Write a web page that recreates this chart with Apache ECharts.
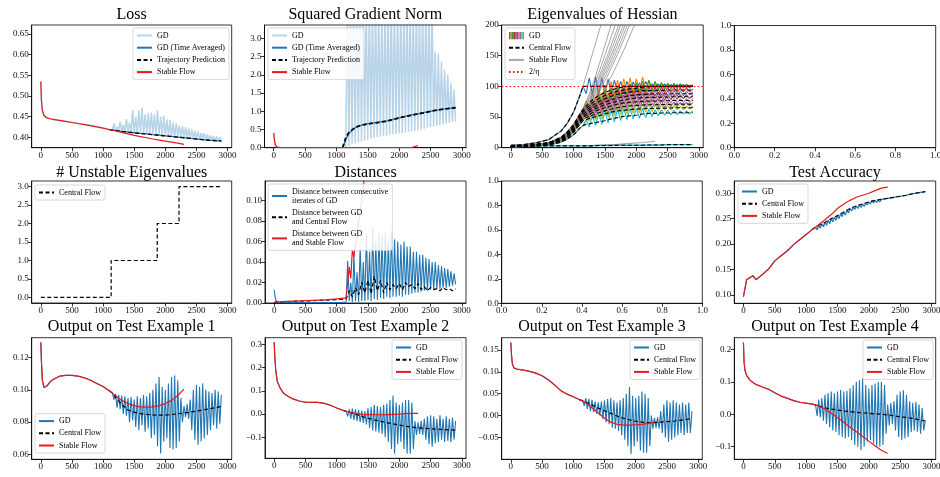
<!DOCTYPE html>
<html><head><meta charset="utf-8"><title>Central flow panels</title>
<script src="https://cdn.jsdelivr.net/npm/echarts@6.0.0/dist/echarts.min.js"></script>
<style>html,body{margin:0;padding:0;background:#fff;}#chart{width:940px;height:477px;}</style>
</head><body><div id="chart"></div>
<script>
// ---------------- iteration grids ----------------
const ITER = [0,10,25,50,100,150,200,300,400,500,600,700,800,900,1000,1100,1150,1200,1300,1400,1500,1600,1700,1800,1900,2000,2100,2200,2300];
const LATE_X = [1100,1150,1200,1300,1400,1500,1600,1700,1800,1900,2000,2100,2200,2300,2400,2500,2600,2700,2800,2900];
const SPIKE_X = [1150,1175,1200,1225,1250,1275,1300,1325,1350,1375,1400,1425,1450,1475,1500,1525,1550,1575,1600,1625,1650,1675,1700,1725,1750,1775,1800,1825,1850,1875,1900,1925,1950,1975,2000,2025,2050,2075,2100,2125,2150,2175,2200,2225,2250,2275,2300,2325,2350,2375,2400,2425,2450,2475,2500,2525,2550,2575,2600,2625,2650,2675,2700,2725,2750,2775,2800,2825,2850,2875,2900];
const EIG_CX = [0,200,400,600,800,900,1000,1100,1150,1200,1300,1400,1500,1600,1700,1800,1900,2000,2100,2200,2300,2400,2500,2600,2700,2800,2900];
const EIG_X = [1150,1200,1250,1300,1350,1400,1450,1500,1550,1600,1650,1700,1750,1800,1850,1900,1950,2000,2050,2100,2150,2200,2250,2300,2350,2400,2450,2500,2550,2600,2650,2700,2750,2800,2850,2900];

// ---------------- tick labels ----------------
const X_TICKS = [0,500,1000,1500,2000,2500,3000];
const UNIT_TICKS = [0,0.2,0.4,0.6,0.8,1.0];
const Y_TICKS_LOSS = [0.40,0.45,0.50,0.55,0.60,0.65];
const Y_TICKS_GRAD = [0,0.5,1.0,1.5,2.0,2.5,3.0];
const Y_TICKS_EIG = [0,50,100,150,200];
const Y_TICKS_UNST = [0,0.5,1.0,1.5,2.0,2.5,3.0];
const Y_TICKS_DIST = [0,0.02,0.04,0.06,0.08,0.10];
const Y_TICKS_ACC = [0.10,0.15,0.20,0.25,0.30];
const Y_TICKS_OUT1 = [0.06,0.08,0.10,0.12];
const Y_TICKS_OUT2 = [-0.1,0,0.1,0.2,0.3];
const Y_TICKS_OUT3 = [-0.05,0,0.05,0.10,0.15];
const Y_TICKS_OUT4 = [-0.1,0,0.1,0.2];

// ---------------- Loss ----------------
const STABLE_LOSS = [0.535,0.49,0.465,0.453,0.447,0.445,0.4435,0.441,0.4385,0.436,
  0.4335,0.431,0.4285,0.4255,0.4225,0.419,0.4172,0.4155,0.412,0.4085,
  0.405,0.402,0.399,0.396,0.3935,0.391,0.3885,0.386,0.383];
const CENTRAL_LOSS = [0.419,0.4175,0.4165,0.4145,0.4125,0.411,0.4095,0.408,0.4065,0.405,
  0.4035,0.402,0.4005,0.399,0.3975,0.396,0.3945,0.393,0.392,0.391];
const AVG_LOSS = [0.419,0.4178,0.4168,0.4147,0.4128,0.4112,0.4097,0.4083,0.4066,0.4052,
  0.4037,0.4022,0.4007,0.3992,0.3977,0.3962,0.3947,0.3932,0.3922,0.3912];
const GD_LOSS = [0.4175,0.434,0.4165,0.425,0.4155,0.438,0.4145,0.43,0.4135,0.444,
  0.4125,0.436,0.412,0.466,0.411,0.45,0.4103,0.465,0.4095,0.472,
  0.4088,0.455,0.408,0.458,0.4073,0.46,0.4065,0.455,0.4058,0.465,
  0.405,0.45,0.4043,0.452,0.4035,0.443,0.4028,0.442,0.402,0.436,
  0.4013,0.434,0.4005,0.428,0.3998,0.427,0.399,0.425,0.3983,0.422,
  0.3975,0.419,0.3968,0.416,0.396,0.414,0.3953,0.411,0.3945,0.41,
  0.3938,0.407,0.393,0.405,0.3925,0.403,0.392,0.402,0.3915,0.4,
  0.391];

// ---------------- Squared gradient norm ----------------
const STABLE_GRAD = [0.4,0.25,0.08,0.02,0.005,0.003,0.002,0.002,0.002,0.002,
  0.002,0.002,0.002,0.002,0.002,0.002,0.002,0.002,0.002,0.002,
  0.002,0.002,0.002,0.002,0.002,0.002,0.002,0.002,0.06];
const CENTRAL_GRAD = [0.0,0.28,0.42,0.56,0.62,0.65,0.68,0.7,0.73,0.77,
  0.82,0.86,0.89,0.93,0.96,1.0,1.03,1.06,1.08,1.1];
const AVG_GRAD = [0.0,0.22,0.4,0.55,0.62,0.66,0.68,0.71,0.73,0.78,
  0.82,0.86,0.9,0.93,0.97,1.0,1.03,1.06,1.08,1.09];
const GD_GRAD = [0.0,4,0.05,4,0.1,4,0.12,4,0.15,4,
  0.18,4,0.2,4,0.22,4,0.25,4,0.27,4,
  0.3,4,0.3,4,0.32,4,0.33,4,0.35,4,
  0.37,4,0.38,4,0.4,4,0.4,4,0.42,4,
  0.43,4,0.45,4,0.46,4,0.48,4,0.5,4,
  0.52,4,0.54,4,0.56,4,0.58,2.64,0.6,2.59,
  0.62,2.36,0.64,2.14,0.66,2.0,0.68,1.77,0.7,1.6,
  0.72];

// ---------------- Eigenvalues of Hessian ----------------
const ETA_LEVEL = 100;
const EIG_CF_1 = [4,5,8,13,27,40,58,85,100,100,100,100,100,100,100,100,100,100,100,100,100,100,100,100,100,100,100];
const EIG_CF_2 = [3,4,6,8,17,26,38,55,63,68,78,85,90,94,97,99,100,100,100,100,100,100,100,100,100,100,100];
const EIG_CF_3 = [3,3,5,8,16,24,36,52,60,64,73,80,85,89,92,94,96,97,98.5,100,100,100,100,100,100,100,100];
const EIG_CF_4 = [2,3,5,7,15,22,34,50,58,61,69,75,80,84,87,89,91,92,93,93,93.5,93.5,94,94,94,94,94];
const EIG_CF_5 = [2,3,4,7,14,21,32,48,55,58,65,70,74,78,81,83,85,86,87,87,87.5,87.5,88,88,88,88,88];
const EIG_CF_6 = [2,2,4,6,13,20,30,45,52,55,61,66,70,73,76,78,80,81,81.5,82,82,82.5,82.5,83,83,83,83];
const EIG_CF_7 = [2,2,3,6,12,18,28,43,50,52,57,62,65,68,71,73,74,75,75.5,76,76,76.5,76.5,77,77,77,77];
const EIG_CF_8 = [2,2,3,5,11,17,27,41,47,49,53,57,60,63,65,67,68,69,69.5,70,70,70.5,70.5,71,71,71,71];
const EIG_CF_9 = [2,2,3,5,10,16,25,38,44,46,49,52,55,58,60,61,62,63,63.5,64,64,64.5,64.5,65,65,65,65];
const EIG_CF_10 = [1,2,3,4,9,14,21,32,36,38,40,42,44,47,49,51,52,53,55,56,56,56.5,56.5,57,57,57,57];
const EIG_CF_11 = [3,3,3,3,3,3,3,3,3,3,3,3.5,3.5,3.5,4,4,4,4,4,4.5,4.5,4.5,5,5,5,5,5];
const EIG_GD_1 = [100,88,114,86,116,85,114,87,112,89,110,91,108,92,108,93,107,94,106,95,108,96,104,97,104,97,104,97,103,98,103,98,103,98,102,100];
const EIG_GD_2 = [63,76,66,88,74,96,78,102,82,108,86,110,88,112,90,114,90,112,92,115,93,110,95,107,96,106,96,105,97,105,97,104,98,104,98,103];
const EIG_GD_3 = [60,70,62,80,68,88,72,94,76,98,82,100,85,102,86,104,88,106,89,108,90,110,92,108,94,106,95,105,96,104,96,104,97,103,97,102];
const EIG_GD_4 = [58,66,58,76,64,82,68,88,72,92,76,95,80,97,81,99,83,100,84,101,85,100,87,99,88,98,89,98,90,98,90,97,91,97,91,96];
const EIG_GD_5 = [55,63,55,72,60,78,63,83,66,87,70,90,72,92,75,93,77,94,78,95,79,95,81,94,82,93,83,93,84,93,84,92,85,92,86,91];
const EIG_GD_6 = [52,60,52,68,56,74,59,79,62,82,65,85,67,86,69,88,71,88,72,89,73,89,75,88,76,88,77,87,78,87,79,86,80,86,80,86];
const EIG_GD_7 = [50,57,49,64,52,70,55,74,58,77,61,80,63,81,65,82,66,83,67,83,68,83,70,82,71,82,72,81,73,81,73,80,74,80,74,80];
const EIG_GD_8 = [47,54,46,60,48,65,51,69,54,72,57,74,59,76,60,77,61,77,62,77,63,77,64,76,65,76,66,75,67,75,67,74,68,74,68,74];
const EIG_GD_9 = [44,51,43,56,45,61,47,64,50,67,52,69,54,70,55,71,56,71,57,71,58,71,59,70,60,70,61,69,61,69,62,68,62,68,63,68];
const EIG_GD_10 = [36,46,34,52,36,56,38,60,40,62,42,63,44,64,46,64,47,64,48,64,49,63,51,62,52,62,53,61,54,61,54,60,55,60,55,60];
const EIG_SF_1 = [100,118,135,153,170,188,205,225];
const EIG_SF_2 = [63,75,88,102,117,133,150,167,184,200,218];
const EIG_SF_3 = [60,71,83,95,108,122,136,151,166,181,196,212];
const EIG_SF_4 = [58,68,79,90,102,114,127,140,153,167,181,195,210];
const EIG_SF_5 = [55,65,75,86,97,109,121,133,146,159,172,186,201];
const EIG_SF_6 = [52,62,72,82,93,104,115,127,139,151,163,176,189,202];
const EIG_SF_7 = [50,59,69,79,89,99,110,121,132,144,156,168,181,194,207];
const EIG_SF_8 = [47,56,65,74,84,94,104,115,126,137,148,160,172,185,198,211];
const EIG_SF_9 = [44,52,61,70,79,89,99,109,119,130,141,152,164,176,189,202];
const EIG_SF_10 = [36,43,51,59,68,77,86,96,106,116,126,137,148,159,171,183,195,208];
const EIG_SF_11_X = [1150,1300,1500,1700,1900,2100,2300];
const EIG_SF_11 = [3.5,3.8,4.5,5.5,7,8.5,10.5];

// ---------------- # unstable eigenvalues ----------------
const UNSTABLE_X = [0,1130,1870,2220,2900];
const UNSTABLE_N = [0,1,2,3,3];

// ---------------- Distances ----------------
const DIST_GD_EARLY = [0.013,0.008,0.003,0.0008,0.0005,0.0004,0.0004,0.0004,0.0004,0.0004,
  0.0004,0.0004,0.0004,0.0004,0.0005,0.0006];
const DIST_GD = [0.001,0.041,0.002,0.02,0.001,0.047,0.002,0.03,0.001,0.055,
  0.002,0.04,0.002,0.068,0.003,0.05,0.002,0.073,0.004,0.06,
  0.003,0.068,0.005,0.065,0.004,0.068,0.006,0.06,0.005,0.07,
  0.006,0.062,0.006,0.06,0.007,0.057,0.006,0.06,0.008,0.055,
  0.008,0.055,0.009,0.05,0.01,0.05,0.01,0.047,0.011,0.047,
  0.012,0.044,0.012,0.043,0.013,0.04,0.013,0.04,0.014,0.037,
  0.014,0.036,0.015,0.034,0.015,0.033,0.016,0.031,0.017,0.029,
  0.018];
const DIST_CF_EARLY = [0.0005,0.0008,0.001,0.001,0.001,0.0012,0.0013,0.0015,0.0018,0.002,
  0.0022,0.0025,0.0028,0.003,0.0033,0.0036];
const DIST_CF = [0.004,0.012,0.006,0.015,0.008,0.02,0.01,0.022,0.009,0.026,
  0.012,0.022,0.01,0.02,0.013,0.018,0.014,0.019,0.013,0.02,
  0.016,0.018,0.014,0.019,0.013,0.016,0.012,0.015,0.013,0.014,
  0.012,0.015,0.013,0.014,0.012,0.014];
const DIST_SF_X = [0,200,400,600,800,1000,1150,1175,1200,1225,1250,1275,1300,1325,1350,1375,1400,1425,1450];
const DIST_SF = [0.001,0.0015,0.002,0.0025,0.003,0.004,0.005,0.02,0.035,0.024,0.052,0.045,0.058,0.063,0.08,0.09,0.1,0.112,0.13];

// ---------------- Test accuracy ----------------
const STABLE_ACC = [0.097,0.094,0.1,0.13,0.134,0.138,0.13,0.14,0.151,0.167,
  0.177,0.187,0.199,0.209,0.219,0.229,0.233,0.238,0.248,0.258,
  0.27,0.279,0.286,0.292,0.296,0.3,0.305,0.31,0.312];
const CENTRAL_ACC = [0.229,0.233,0.237,0.243,0.25,0.256,0.263,0.27,0.275,0.279,
  0.283,0.286,0.288,0.29,0.292,0.294,0.296,0.299,0.301,0.303];
const GD_ACC = [0.233,0.228,0.237,0.231,0.24,0.234,0.243,0.237,0.247,0.24,
  0.25,0.244,0.253,0.247,0.256,0.25,0.26,0.254,0.263,0.257,
  0.267,0.261,0.27,0.265,0.273,0.268,0.275,0.27,0.277,0.272,
  0.279,0.274,0.281,0.277,0.283,0.279,0.285,0.281,0.286,0.282,
  0.287,0.283,0.288,0.285,0.289,0.287,0.29,0.288,0.291,0.289,
  0.292,0.29,0.293,0.291,0.294,0.292,0.295,0.293,0.296,0.294,
  0.298,0.296,0.299,0.297,0.3,0.298,0.301,0.299,0.302,0.3,
  0.303];

// ---------------- Outputs on test examples ----------------
const STABLE_OUT1 = [0.1295,0.118,0.106,0.1015,0.1025,0.105,0.1065,0.1085,0.109,0.109,
  0.1085,0.1075,0.106,0.104,0.1021,0.0995,0.098,0.0965,0.0935,0.0915,
  0.0902,0.0895,0.0893,0.0895,0.0902,0.0915,0.0935,0.0965,0.1005];
const CENTRAL_OUT1 = [0.0995,0.098,0.0955,0.091,0.0875,0.0862,0.0852,0.0848,0.0845,0.0843,
  0.0843,0.0847,0.0852,0.0856,0.0862,0.0868,0.0875,0.0882,0.0889,0.0897];
const GD_OUT1 = [0.098,0.094,0.0975,0.089,0.097,0.088,0.0965,0.085,0.096,0.084,
  0.095,0.08,0.0955,0.081,0.094,0.077,0.096,0.075,0.095,0.078,
  0.097,0.074,0.096,0.076,0.098,0.07,0.1,0.072,0.104,0.065,
  0.108,0.0605,0.102,0.068,0.1,0.07,0.104,0.064,0.108,0.063,
  0.109,0.064,0.106,0.068,0.095,0.08,0.09,0.083,0.091,0.082,
  0.094,0.075,0.1,0.069,0.103,0.066,0.102,0.068,0.104,0.07,
  0.1,0.072,0.099,0.075,0.098,0.078,0.1,0.076,0.099,0.079,
  0.097];
const STABLE_OUT2 = [0.309,0.25,0.19,0.14,0.11,0.09,0.08,0.065,0.056,0.051,
  0.05,0.05,0.046,0.038,0.026,0.016,0.012,0.009,0.003,-0.001,
  -0.002,-0.003,-0.003,-0.002,-0.001,0.0,0.002,0.003,0.003];
const CENTRAL_OUT2 = [0.016,0.012,0.008,0.0,-0.01,-0.018,-0.025,-0.031,-0.037,-0.042,
  -0.047,-0.052,-0.056,-0.059,-0.061,-0.063,-0.065,-0.066,-0.068,-0.069];
const GD_OUT2 = [0.012,-0.01,0.02,-0.02,0.024,-0.025,0.02,-0.03,0.018,-0.035,
  0.015,-0.038,0.012,-0.045,0.025,-0.06,0.03,-0.07,0.04,-0.075,
  0.035,-0.08,0.03,-0.085,0.04,-0.1,0.045,-0.12,0.06,-0.15,
  0.08,-0.17,0.05,-0.13,0.04,-0.12,0.05,-0.15,0.06,-0.17,
  0.06,-0.17,0.05,-0.15,-0.03,-0.09,-0.035,-0.085,-0.03,-0.09,
  -0.02,-0.11,-0.01,-0.13,-0.005,-0.14,-0.01,-0.125,-0.02,-0.12,
  -0.005,-0.11,-0.02,-0.12,-0.01,-0.115,-0.02,-0.12,-0.015,-0.11,
  -0.03];
const STABLE_OUT3 = [0.167,0.14,0.118,0.109,0.106,0.105,0.104,0.101,0.097,0.091,
  0.082,0.07,0.057,0.049,0.043,0.036,0.033,0.029,0.018,0.006,
  -0.006,-0.015,-0.02,-0.022,-0.022,-0.021,-0.02,-0.018,-0.015];
const CENTRAL_OUT3 = [0.036,0.034,0.031,0.024,0.017,0.011,0.005,-0.001,-0.006,-0.01,
  -0.013,-0.015,-0.016,-0.016,-0.015,-0.014,-0.013,-0.011,-0.009,-0.007];
const GD_OUT3 = [0.034,0.022,0.04,0.015,0.038,0.01,0.036,0.008,0.032,0.004,
  0.03,0.0,0.032,-0.008,0.035,-0.015,0.038,-0.02,0.04,-0.028,
  0.035,-0.03,0.03,-0.035,0.035,-0.045,0.04,-0.055,0.05,-0.07,
  0.065,-0.088,0.045,-0.07,0.04,-0.06,0.045,-0.08,0.055,-0.085,
  0.05,-0.085,0.04,-0.07,0.0,-0.03,-0.005,-0.028,-0.004,-0.03,
  0.01,-0.04,0.025,-0.05,0.035,-0.06,0.03,-0.055,0.035,-0.05,
  0.03,-0.045,0.025,-0.04,0.03,-0.045,0.025,-0.04,0.03,-0.04,
  0.01];
const STABLE_OUT4 = [0.221,0.16,0.135,0.12,0.106,0.098,0.092,0.084,0.077,0.066,
  0.056,0.049,0.042,0.037,0.034,0.031,0.029,0.025,0.016,0.003,
  -0.011,-0.025,-0.04,-0.054,-0.068,-0.083,-0.098,-0.111,-0.121];
const CENTRAL_OUT4 = [0.031,0.029,0.025,0.02,0.016,0.013,0.01,0.008,0.006,0.004,
  0.003,0.001,0.0,-0.002,-0.005,-0.008,-0.01,-0.013,-0.017,-0.021];
const GD_OUT4 = [0.029,-0.005,0.045,-0.01,0.05,-0.02,0.06,-0.03,0.065,-0.04,
  0.07,-0.05,0.065,-0.055,0.07,-0.065,0.075,-0.07,0.07,-0.075,
  0.072,-0.07,0.08,-0.08,0.09,-0.095,0.1,-0.1,0.105,-0.111,
  0.11,-0.1,0.09,-0.085,0.08,-0.08,0.09,-0.09,0.095,-0.1,
  0.1,-0.1,0.1,-0.095,0.09,-0.06,0.03,-0.035,0.035,-0.03,
  0.04,-0.05,0.06,-0.07,0.07,-0.08,0.074,-0.075,0.06,-0.07,
  0.04,-0.055,0.035,-0.05,0.038,-0.054,0.03,-0.06,0.02,-0.05,
  -0.02];

// ---------------- styling ----------------
const FONT = '"Liberation Serif","Times New Roman",serif';
const C_BLUE = '#1f77b4', C_LIGHT = 'rgba(31,119,180,0.32)', C_RED = '#e8191f', C_GREY = 'rgba(128,128,128,0.7)';
const TAB10 = ['#1f77b4','#ff7f0e','#2ca02c','#d62728','#9467bd','#8c564b','#e377c2','#7f7f7f','#bcbd22','#17becf'];
const DASH = [4,2.5];

function pairs(xs, ys){ const out=[]; for(let i=0;i<ys.length;i++){ if(ys[i]!=null) out.push([xs[i], ys[i]]); } return out; }
function withEarly(earlyX, earlyY, n, lateX, lateY){ return pairs(earlyX.slice(0,n), earlyY.slice(0,n)).concat(pairs(lateX, lateY)); }
function L(name, g, data, color, width, type, extra){
  return Object.assign({type:'line', name:name, xAxisIndex:g, yAxisIndex:g, data:data, symbol:'none', showSymbol:false,
    silent:true, animation:false, clip:true, lineStyle:{color:color, width:width, type:type||'solid'}, itemStyle:{color:color},
    emphasis:{disabled:true}}, extra||{});
}
function fmt(dec){ return function(v){ return (v < -1e-9 ? '\u2212' : '') + Math.abs(v).toFixed(dec); }; }

const GRIDS = [
  [31.7,25,200,122.7],[264.5,25,201.5,122.7],[501.7,25,201.5,122.7],[734.3,25.5,201.4,122.2],
  [31.7,181,200,122],[265,181,201,122],[501.7,181,200.6,122.3],[734.3,181,201.4,122.3],
  [31.7,337.7,200,121.6],[265,337.7,201,120.6],[501.7,337.7,200.6,121.6],[734.3,337.7,201.4,121.6]
];
const TITLES = ['Loss','Squared Gradient Norm','Eigenvalues of Hessian','',
  '# Unstable Eigenvalues','Distances','','Test Accuracy',
  'Output on Test Example 1','Output on Test Example 2','Output on Test Example 3','Output on Test Example 4'];
const TITLE_TOP = [7,165,319];
const ITER_AX = {min:-146, max:3066, ticks:X_TICKS, dec:0};
const UNIT_AX = {min:0, max:1, ticks:UNIT_TICKS, dec:1};
const YAX = [
  {min:0.375,max:0.672,ticks:Y_TICKS_LOSS,dec:2},
  {min:0,max:3.37,ticks:Y_TICKS_GRAD,dec:1},
  {min:0,max:200,ticks:Y_TICKS_EIG,dec:0},
  UNIT_AX,
  {min:-0.15,max:3.15,ticks:Y_TICKS_UNST,dec:1},
  {min:0,max:0.119,ticks:Y_TICKS_DIST,dec:2},
  UNIT_AX,
  {min:0.0837,max:0.324,ticks:Y_TICKS_ACC,dec:2},
  {min:0.0569,max:0.1324,ticks:Y_TICKS_OUT1,dec:2},
  {min:-0.19,max:0.328,ticks:Y_TICKS_OUT2,dec:1},
  {min:-0.1,max:0.178,ticks:Y_TICKS_OUT3,dec:2},
  {min:-0.139,max:0.236,ticks:Y_TICKS_OUT4,dec:1}
];
function axis(i, spec, pos){
  return {type:'value', gridIndex:i, position:pos, min:spec.min, max:spec.max, splitLine:{show:false},
    axisLine:{show:true, onZero:false, lineStyle:{color:'#000', width:0.8}},
    axisTick:{show:true, inside:false, length:3.5, lineStyle:{color:'#000', width:0.8}, customValues:spec.ticks},
    axisLabel:{show:true, margin:3, fontFamily:FONT, fontSize:9, color:'#111', customValues:spec.ticks, formatter:fmt(spec.dec), hideOverlap:false}};
}

const grids = [], xAxes = [], yAxes = [], titles = [];
GRIDS.forEach(function(g, i){
  grids.push({left:g[0], top:g[1], width:g[2], height:g[3], show:true, borderColor:'#000', borderWidth:0.8,
    backgroundColor:'transparent', containLabel:false, outerBoundsMode:'none'});
  const empty = (i===3 || i===6);
  xAxes.push(axis(i, empty ? UNIT_AX : ITER_AX, 'bottom'));
  yAxes.push(axis(i, YAX[i], 'left'));
  if (TITLES[i]) titles.push({text:TITLES[i], left:g[0]+g[2]/2, top:TITLE_TOP[Math.floor(i/4)], textAlign:'center', padding:0,
    textStyle:{fontFamily:FONT, fontSize:16, fontWeight:'normal', color:'#000', lineHeight:16}});
});

const series = [];
// Panel 0: Loss
series.push(L('p1:GD',0, withEarly(ITER, STABLE_LOSS, 16, SPIKE_X, GD_LOSS), C_LIGHT, 1.5));
series.push(L('p1:AVG',0, pairs(LATE_X, AVG_LOSS), C_BLUE, 1.3));
series.push(L('p1:TP',0, pairs(LATE_X, CENTRAL_LOSS), '#000', 1.3, DASH));
series.push(L('p1:SF',0, pairs(ITER, STABLE_LOSS), C_RED, 1.2));
// Panel 1: gradient norm
series.push(L('p2:GD',1, withEarly(ITER, STABLE_GRAD, 16, SPIKE_X, GD_GRAD), C_LIGHT, 1.5));
series.push(L('p2:AVG',1, pairs(LATE_X, AVG_GRAD), C_BLUE, 1.3));
series.push(L('p2:TP',1, pairs(LATE_X, CENTRAL_GRAD), '#000', 1.8, DASH));
series.push(L('p2:SF',1, pairs(ITER, STABLE_GRAD), C_RED, 1.2));
// Panel 2: eigenvalues
const EIG_CF = [EIG_CF_1,EIG_CF_2,EIG_CF_3,EIG_CF_4,EIG_CF_5,EIG_CF_6,EIG_CF_7,EIG_CF_8,EIG_CF_9,EIG_CF_10];
const EIG_GD = [EIG_GD_1,EIG_GD_2,EIG_GD_3,EIG_GD_4,EIG_GD_5,EIG_GD_6,EIG_GD_7,EIG_GD_8,EIG_GD_9,EIG_GD_10];
const EIG_SF = [EIG_SF_1,EIG_SF_2,EIG_SF_3,EIG_SF_4,EIG_SF_5,EIG_SF_6,EIG_SF_7,EIG_SF_8,EIG_SF_9,EIG_SF_10];
EIG_GD.forEach(function(arr, k){
  series.push(L(k===0?'p3:GD':'p3:gd'+k, 2, withEarly(EIG_CX, EIG_CF[k], 8, EIG_X, arr), TAB10[k], 1.1));
});
series.push(L('p3:gd11', 2, pairs(EIG_CX, EIG_CF_11), TAB10[9], 1.4));
EIG_SF.forEach(function(arr, k){
  series.push(L(k===0?'p3:SF':'p3:sf'+k, 2, withEarly(EIG_CX, EIG_CF[k], 8, EIG_X, arr), C_GREY, 1));
});
series.push(L('p3:sf11', 2, pairs(EIG_SF_11_X, EIG_SF_11), C_GREY, 1.2));
EIG_CF.forEach(function(arr, k){
  series.push(L(k===0?'p3:CF':'p3:cf'+k, 2, pairs(EIG_CX, arr), '#000', 1.1, DASH));
});
series.push(L('p3:cf11', 2, pairs(EIG_CX, EIG_CF_11), '#000', 1.1, DASH));
series.push(L('p3:ETA', 2, [], '#ff0000', 1.2, [1.5,2.5], {markLine:{silent:true, symbol:'none', animation:false,
  label:{show:false}, lineStyle:{color:'#ff0000', width:1.2, type:[1.5,2.5]}, data:[{yAxis:ETA_LEVEL}]}}));
// Panel 4: unstable eigenvalues
series.push(L('p5:CF',4, pairs(UNSTABLE_X, UNSTABLE_N), '#000', 1.2, DASH, {step:'end'}));
// Panel 5: distances
series.push(L('p6:GD',5, withEarly(ITER, DIST_GD_EARLY, 16, SPIKE_X, DIST_GD), C_BLUE, 1.1));
series.push(L('p6:CF',5, withEarly(ITER, DIST_CF_EARLY, 16, EIG_X, DIST_CF), '#000', 1.2, DASH));
series.push(L('p6:SF',5, pairs(DIST_SF_X, DIST_SF), C_RED, 1.2));
// Panel 7: test accuracy
series.push(L('p8:GD',7, withEarly(ITER, STABLE_ACC, 16, SPIKE_X, GD_ACC), C_BLUE, 1.2));
series.push(L('p8:CF',7, pairs(LATE_X, CENTRAL_ACC), '#000', 1.2, DASH));
series.push(L('p8:SF',7, pairs(ITER, STABLE_ACC), C_RED, 1.2));
// Panels 8-11: outputs
[[STABLE_OUT1,CENTRAL_OUT1,GD_OUT1],[STABLE_OUT2,CENTRAL_OUT2,GD_OUT2],[STABLE_OUT3,CENTRAL_OUT3,GD_OUT3],[STABLE_OUT4,CENTRAL_OUT4,GD_OUT4]]
.forEach(function(set, j){
  const g = 8+j, p = 'p'+(9+j);
  series.push(L(p+':GD', g, withEarly(ITER, set[0], 16, SPIKE_X, set[2]), C_BLUE, 1.1));
  series.push(L(p+':CF', g, pairs(LATE_X, set[1]), '#000', 1.2, DASH));
  series.push(L(p+':SF', g, pairs(ITER, set[0]), C_RED, 1.2));
});

// ---------------- legends ----------------
const LABEL = {
  'p1:GD':'GD','p1:AVG':'GD (Time Averaged)','p1:TP':'Trajectory Prediction','p1:SF':'Stable Flow',
  'p2:GD':'GD','p2:AVG':'GD (Time Averaged)','p2:TP':'Trajectory Prediction','p2:SF':'Stable Flow',
  'p3:GD':'GD','p3:CF':'Central Flow','p3:SF':'Stable Flow','p3:ETA':'2/\u03b7',
  'p5:CF':'Central Flow',
  'p6:GD':'Distance between consecutive\niterates of GD','p6:CF':'Distance between GD\nand Central Flow','p6:SF':'Distance between GD\nand Stable Flow'
};
['p8','p9','p10','p11','p12'].forEach(function(p){ LABEL[p+':GD']='GD'; LABEL[p+':CF']='Central Flow'; LABEL[p+':SF']='Stable Flow'; });
let stripes = '';
TAB10.forEach(function(c, k){ stripes += '<rect x="'+(k*1.5)+'" y="0" width="1.6" height="8" fill="'+c+'"/>'; });
const RAINBOW = 'image://data:image/svg+xml;charset=utf-8,' + encodeURIComponent('<svg xmlns="http://www.w3.org/2000/svg" width="15" height="8">'+stripes+'</svg>');
function legend(names, pos, extra){
  return Object.assign({orient:'vertical', selectedMode:false, data:names, itemWidth:15, itemHeight:8, itemGap:3.2,
    padding:[3,4,3,3], backgroundColor:'rgba(255,255,255,0.85)', borderColor:'#cfcfcf', borderWidth:0.8, borderRadius:2,
    itemStyle:{opacity:0},
    textStyle:{fontFamily:FONT, fontSize:8, color:'#000', lineHeight:9},
    formatter:function(n){ return LABEL[n] || n; }}, pos, extra||{});
}
const legends = [
  legend(['p1:GD','p1:AVG','p1:TP','p1:SF'], {right:711, top:28}),
  legend(['p2:GD','p2:AVG','p2:TP','p2:SF'], {left:268, top:28}),
  legend([{name:'p3:GD', icon:RAINBOW, itemStyle:{opacity:1}},'p3:CF','p3:SF','p3:ETA'], {left:505, top:28}),
  legend(['p5:CF'], {left:35, top:185}),
  legend(['p6:GD','p6:CF','p6:SF'], {left:268, top:184}),
  legend(['p8:GD','p8:CF','p8:SF'], {left:738, top:184}),
  legend(['p9:GD','p9:CF','p9:SF'], {left:35, bottom:24}),
  legend(['p10:GD','p10:CF','p10:SF'], {right:478, top:340}),
  legend(['p11:GD','p11:CF','p11:SF'], {right:240, top:340}),
  legend(['p12:GD','p12:CF','p12:SF'], {right:7, top:340})
];

const chart = echarts.init(document.getElementById('chart'), null, {renderer:'canvas'});
chart.setOption({animation:false, backgroundColor:'#fff', title:titles, grid:grids, xAxis:xAxes, yAxis:yAxes,
  legend:legends, tooltip:{show:false}, series:series});
</script></body></html>
